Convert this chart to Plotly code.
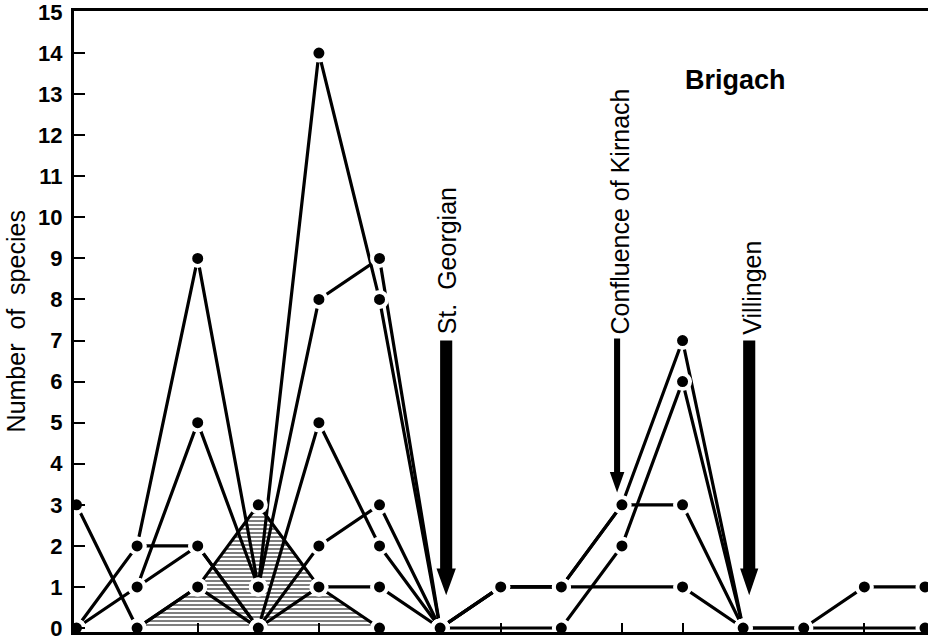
import plotly.graph_objects as go

# Sampling stations along the Brigach (upstream -> downstream)
stations = list(range(15))

# Number of species per group at each station (None = not sampled)
group_a = [0, 2, 9, 1, 14, 8, 0, 1, 1, 3, 7, 0, 0, 1, 1]
group_b = [0, 1, 5, 1, 8, 9, 0, None, 0, 2, 6, 0, 0, None, 0]
group_c = [None, 2, 2, 0, 5, 2, 0, 1, 1, None, 1, 0, None, None, None]
group_d = [None, 1, 2, 0, 2, 3, 0, 1, 1, 3, 3, 0, None, None, None]
group_e = [3, 0, 1, 0, 1, 1, 0, None, None, None, None, None, None, None, None]

# Hatched group (upper reach only)
hatched_stations = [1, 2, 3, 4, 5]
hatched_values = [0, 1, 3, 1, 0]

y_ticks = list(range(16))

# Landmarks along the river: (label, station position)
landmarks = [("St.  Georgian", 6.12), ("Confluence of Kirnach", 8.97), ("Villingen", 11.15)]

FONT = "Liberation Sans"
LINE_W = 3.2

fig = go.Figure()

# hatched area with its outline
fig.add_trace(go.Scatter(
    x=hatched_stations, y=hatched_values, mode="lines",
    line=dict(color="black", width=LINE_W),
    fill="tozeroy",
    fillpattern=dict(shape="-", size=4, solidity=0.5, fgcolor="black", bgcolor="white"),
    fillcolor="white",
    hoverinfo="skip", showlegend=False,
))

series = [group_a, group_b, group_c, group_d, group_e]
for s in series:
    fig.add_trace(go.Scatter(
        x=stations, y=s, mode="lines", connectgaps=True,
        line=dict(color="black", width=LINE_W),
        showlegend=False, cliponaxis=False,
    ))

# dots on top, with a white ring that leaves a small gap to the lines
marker_style = dict(color="black", size=15, line=dict(color="white", width=4))
fig.add_trace(go.Scatter(
    x=hatched_stations, y=hatched_values, mode="markers",
    marker=marker_style, showlegend=False, cliponaxis=False,
))
for s in series:
    fig.add_trace(go.Scatter(
        x=stations, y=s, mode="markers",
        marker=marker_style, showlegend=False, cliponaxis=False,
    ))

# arrows pointing at the landmarks
def arrow_path(xc, top, head_base, tip, shaft_half, head_half):
    return (f"M {xc - shaft_half},{top} L {xc + shaft_half},{top} "
            f"L {xc + shaft_half},{head_base} L {xc + head_half},{head_base} "
            f"L {xc},{tip} L {xc - head_half},{head_base} "
            f"L {xc - shaft_half},{head_base} Z")

arrow_specs = [
    (6.10, 7.0, 1.45, 0.8, 0.1, 0.16),
    (8.92, 7.05, 3.8, 3.3, 0.05, 0.12),
    (11.10, 7.0, 1.45, 0.8, 0.1, 0.15),
]
shapes = []
for xc, top, hb, tip, sh, hh in arrow_specs:
    shapes.append(dict(type="path", xref="x", yref="y",
                       path=arrow_path(xc, top, hb, tip, sh, hh),
                       fillcolor="black", line=dict(color="black", width=0)))

annotations = []
for label, pos in landmarks:
    annotations.append(dict(
        text=label, x=pos, y=7.1, xref="x", yref="y",
        textangle=-90, xanchor="center", yanchor="bottom",
        showarrow=False, font=dict(family=FONT, size=25, color="black"),
    ))

annotations.append(dict(
    text="Brigach", x=10.88, y=13.35, xref="x", yref="y",
    showarrow=False, font=dict(family=FONT, size=27, color="black", weight="bold"),
))
annotations.append(dict(
    text="Number  of  species", x=-0.068, y=0.5, xref="paper", yref="paper",
    textangle=-90, showarrow=False, xanchor="center", yanchor="middle",
    font=dict(family=FONT, size=25, color="black"),
))

fig.update_layout(
    width=928, height=641,
    margin=dict(l=74, r=0, t=10, b=8),
    paper_bgcolor="white", plot_bgcolor="white",
    shapes=shapes, annotations=annotations,
    showlegend=False,
)
fig.update_xaxes(
    range=[-0.041, 14.05], tickvals=stations, ticktext=[""] * len(stations),
    ticks="inside", ticklen=9, tickwidth=2, tickcolor="black",
    showgrid=False, zeroline=False,
    showline=True, linecolor="black", linewidth=3, mirror=True,
)
fig.update_yaxes(
    range=[-0.097, 15.024], tickvals=y_ticks,
    ticks="inside", ticklen=11, tickwidth=2, tickcolor="black",
    tickfont=dict(family=FONT, size=22, color="black", weight="bold"),
    ticklabelstandoff=4, ticklabeloverflow="allow",
    showgrid=False, zeroline=False,
    showline=True, linecolor="black", linewidth=3,
)

fig.write_html("out.html")
